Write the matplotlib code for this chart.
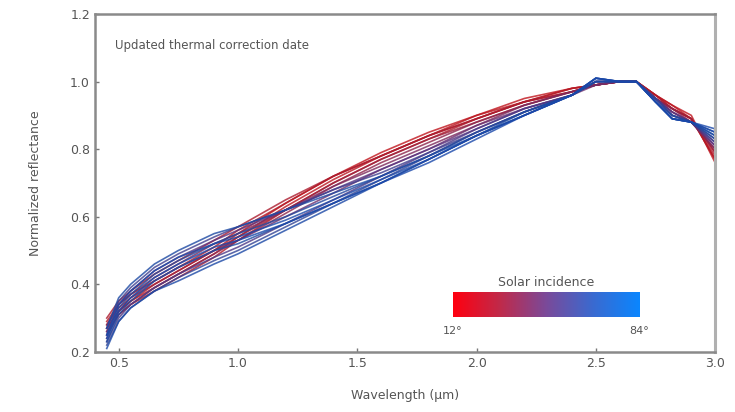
import matplotlib
matplotlib.use("Agg")
import matplotlib.pyplot as plt
import numpy as np
from matplotlib.colors import LinearSegmentedColormap

wavelength = [0.45, 0.50, 0.55, 0.65, 0.75, 0.90, 1.00, 1.20, 1.40, 1.60, 1.80,
              2.00, 2.20, 2.40, 2.50, 2.60, 2.67, 2.75, 2.82, 2.90, 3.00]

incidence = [12, 16, 20, 24, 28, 32, 36, 40, 44, 48, 52, 56, 60, 64, 68, 72, 76, 80, 84]

r12 = [0.28,0.33,0.36,0.40,0.44,0.50,0.55,0.64,0.72,0.79,0.85,0.90,0.95,0.98,0.99,1.00,1.00,0.96,0.93,0.90,0.76]
r16 = [0.27,0.32,0.35,0.39,0.43,0.49,0.54,0.63,0.71,0.78,0.84,0.90,0.94,0.98,0.99,1.00,1.00,0.96,0.93,0.89,0.77]
r20 = [0.29,0.34,0.37,0.41,0.45,0.51,0.56,0.64,0.72,0.78,0.84,0.89,0.94,0.98,0.99,1.00,1.00,0.96,0.92,0.89,0.77]
r24 = [0.26,0.31,0.34,0.38,0.42,0.48,0.53,0.62,0.70,0.77,0.83,0.89,0.94,0.97,0.99,1.00,1.00,0.96,0.92,0.89,0.78]
r28 = [0.30,0.35,0.38,0.43,0.47,0.53,0.57,0.65,0.72,0.78,0.84,0.89,0.94,0.97,0.99,1.00,1.00,0.95,0.92,0.89,0.79]
r32 = [0.27,0.32,0.35,0.40,0.44,0.50,0.54,0.62,0.70,0.77,0.83,0.88,0.93,0.97,0.99,1.00,1.00,0.95,0.92,0.89,0.79]
r36 = [0.25,0.31,0.34,0.39,0.43,0.49,0.53,0.61,0.69,0.76,0.82,0.88,0.93,0.97,0.99,1.00,1.00,0.95,0.92,0.88,0.80]
r40 = [0.28,0.34,0.37,0.42,0.46,0.52,0.55,0.62,0.69,0.75,0.81,0.87,0.93,0.97,0.99,1.00,1.00,0.95,0.91,0.88,0.80]
r44 = [0.24,0.32,0.36,0.41,0.45,0.50,0.53,0.60,0.67,0.74,0.80,0.87,0.92,0.96,0.99,1.00,1.00,0.95,0.91,0.88,0.81]
r48 = [0.26,0.34,0.38,0.44,0.48,0.53,0.56,0.62,0.68,0.74,0.80,0.86,0.92,0.96,1.00,1.00,1.00,0.95,0.91,0.88,0.81]
r52 = [0.23,0.30,0.34,0.39,0.43,0.48,0.51,0.58,0.65,0.72,0.79,0.86,0.92,0.96,1.00,1.00,1.00,0.95,0.90,0.88,0.82]
r56 = [0.27,0.35,0.39,0.45,0.49,0.54,0.57,0.62,0.68,0.73,0.79,0.85,0.91,0.96,1.00,1.00,1.00,0.95,0.90,0.88,0.82]
r60 = [0.22,0.29,0.33,0.38,0.42,0.47,0.50,0.57,0.64,0.71,0.78,0.85,0.91,0.96,1.00,1.00,1.00,0.95,0.90,0.88,0.83]
r64 = [0.25,0.33,0.37,0.43,0.47,0.52,0.55,0.60,0.66,0.72,0.78,0.85,0.91,0.96,1.00,1.00,1.00,0.94,0.90,0.88,0.83]
r68 = [0.23,0.31,0.35,0.41,0.45,0.50,0.52,0.58,0.64,0.70,0.77,0.84,0.91,0.96,1.01,1.00,1.00,0.94,0.89,0.88,0.84]
r72 = [0.27,0.36,0.40,0.46,0.50,0.55,0.57,0.62,0.67,0.72,0.78,0.84,0.90,0.96,1.01,1.00,1.00,0.94,0.89,0.88,0.84]
r76 = [0.21,0.29,0.33,0.38,0.41,0.46,0.49,0.56,0.63,0.70,0.77,0.84,0.90,0.96,1.00,1.00,1.00,0.94,0.89,0.88,0.85]
r80 = [0.25,0.34,0.38,0.44,0.48,0.52,0.54,0.59,0.65,0.71,0.77,0.84,0.90,0.96,1.01,1.00,1.00,0.94,0.89,0.88,0.85]
r84 = [0.24,0.32,0.36,0.42,0.46,0.51,0.53,0.58,0.64,0.70,0.76,0.83,0.90,0.96,1.01,1.00,1.00,0.94,0.89,0.88,0.86]

curves = [r12, r16, r20, r24, r28, r32, r36, r40, r44, r48,
          r52, r56, r60, r64, r68, r72, r76, r80, r84]

x_ticks = [0.5, 1.0, 1.5, 2.0, 2.5, 3.0]
y_ticks = [0.2, 0.4, 0.6, 0.8, 1.0, 1.2]

bar_cmap = LinearSegmentedColormap.from_list(
    "inc", ["#ff0010", "#c02a4a", "#7a4a9a", "#3a6ad0", "#0a86ff"])
line_cmap = LinearSegmentedColormap.from_list(
    "incl", ["#c0141c", "#a81c30", "#5a3480", "#1e4aa0", "#1a48aa"])

fig = plt.figure(figsize=(7.35, 4.12), dpi=100)
ax = fig.add_axes([0.129, 0.146, 0.844, 0.820])

inc_min, inc_max = min(incidence), max(incidence)
for inc, refl in zip(incidence, curves):
    t = (inc - inc_min) / (inc_max - inc_min)
    ax.plot(wavelength, refl, color=line_cmap(t), lw=1.2, alpha=0.8)

ax.set_xlim(0.4, 3.0)
ax.set_ylim(0.2, 1.2)
ax.set_xticks(x_ticks)
ax.set_yticks(y_ticks)
ax.set_xticklabels([f"{v:.1f}" for v in x_ticks])
ax.set_yticklabels([f"{v:.1f}" for v in y_ticks])
ax.tick_params(direction="in", length=3, width=1, colors="#777777",
               labelcolor="#555555", labelsize=9)
for side in ["left", "bottom", "top"]:
    ax.spines[side].set_color("#8a8a8a")
    ax.spines[side].set_linewidth(1.8)
ax.spines["right"].set_color("#b0b0b0")
ax.spines["right"].set_linewidth(2.2)

ax.set_xlabel("Wavelength (μm)", color="#555555", fontsize=9, labelpad=14)
ax.set_ylabel("Normalized reflectance", color="#555555", fontsize=9, labelpad=20)

ax.text(0.032, 0.908, "Updated thermal correction date", transform=ax.transAxes,
        fontsize=8.5, color="#555555", va="center", ha="left")

cax = fig.add_axes([0.616, 0.231, 0.254, 0.061])
grad = np.linspace(0, 1, 256).reshape(1, -1)
cax.imshow(grad, aspect="auto", cmap=bar_cmap, extent=[inc_min, inc_max, 0, 1])
cax.set_xticks([])
cax.set_yticks([])
for s in cax.spines.values():
    s.set_visible(False)
cax.set_title("Solar incidence", fontsize=9, color="#555555", pad=4)
cax.text(0.0, -0.35, f"{inc_min}°", transform=cax.transAxes, ha="center",
         va="top", fontsize=8, color="#555555")
cax.text(1.0, -0.35, f"{inc_max}°", transform=cax.transAxes, ha="center",
         va="top", fontsize=8, color="#555555")

fig.savefig("out.png", dpi=100)
